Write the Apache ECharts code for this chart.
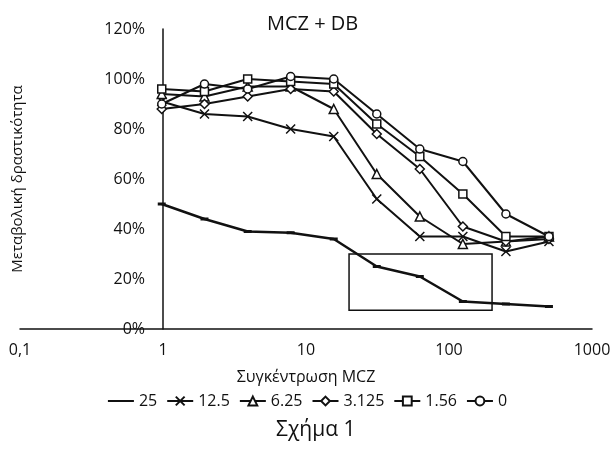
<!DOCTYPE html>
<html lang="el">
<head>
    <meta charset="UTF-8">
    <title>MCZ + DB</title>
    <script src="https://cdn.jsdelivr.net/npm/echarts@6/dist/echarts.min.js"></script>
    <style>
        body { margin: 0; background: #fff; }
        #chart { width: 614px; height: 449px; }
    </style>
</head>
<body>
    <div id="chart"></div>
<script>
    // συγκεντρώσεις MCZ (άξονας x, λογαριθμικός)
    var conc = [0.98, 1.95, 3.91, 7.81, 15.63, 31.25, 62.5, 125, 250, 500];
    var seriesNames = ['25', '12.5', '6.25', '3.125', '1.56', '0'];
    // μεταβολική δραστικότητα (%)
    var s25   = [50, 44, 39, 38.5, 36, 25, 21, 11, 10, 9];
    var s12_5 = [91, 86, 85, 80, 77, 52, 37, 37, 31, 35];
    var s6_25 = [94, 93, 97, 97, 88, 62, 45, 34, 35, 37];
    var s3_125 = [88, 90, 93, 96, 95, 78, 64, 41, 35, 36];
    var s1_56 = [96, 95, 100, 99, 98, 82, 69, 54, 37, 37];
    var s0    = [90, 98, 96, 101, 100, 86, 72, 67, 46, 37];
    var yTicks = [0, 20, 40, 60, 80, 100, 120];
    // πλαίσιο επισήμανσης [x1, y1, x2, y2]
    var boxArea = [20, 30, 200, 7.5];

    var font = 'Open Sans';
    var ink = '#111';

    function pairs(ys) {
        return conc.map(function (x, i) { return [x, ys[i]]; });
    }

    function makeSeries(name, ys, symbol, size) {
        return {
            name: name,
            type: 'line',
            data: pairs(ys),
            symbol: symbol,
            symbolSize: size,
            showAllSymbol: true,
            lineStyle: { color: ink, width: 2 },
            itemStyle: { color: '#fff', borderColor: ink, borderWidth: 1.5 },
            emphasis: { disabled: true },
            z: 3
        };
    }

    var series = [
        {
            name: '25',
            type: 'line',
            data: pairs(s25),
            symbol: 'rect',
            symbolSize: [8, 3],
            lineStyle: { color: ink, width: 2.5 },
            itemStyle: { color: ink, borderWidth: 0 },
            emphasis: { disabled: true },
            markArea: {
                silent: true,
                itemStyle: { color: 'rgba(0,0,0,0)', borderColor: ink, borderWidth: 1.5 },
                data: [[{ coord: [boxArea[0], boxArea[1]] }, { coord: [boxArea[2], boxArea[3]] }]]
            }
        },
        makeSeries('12.5', s12_5, 'path://M0,0L10,10M10,0L0,10', 9),
        makeSeries('6.25', s6_25, 'triangle', 9),
        makeSeries('3.125', s3_125, 'diamond', 9),
        makeSeries('1.56', s1_56, 'rect', 8),
        makeSeries('0', s0, 'circle', 8)
    ];

    var legendData = seriesNames.map(function (n) {
        return n === '25' ? { name: n, itemStyle: { opacity: 0 } } : { name: n };
    });

    var chart = echarts.init(document.getElementById('chart'));
    chart.setOption({
        animation: false,
        backgroundColor: '#fff',
        textStyle: { fontFamily: font, color: ink },
        grid: { left: 20, right: 22, top: 29, bottom: 120 },
        graphic: [
            {
                type: 'text', left: 267, top: 14,
                style: { text: 'MCZ + DB', font: '20px "' + font + '"', fill: ink }
            },
            {
                type: 'text', left: 276, top: 420,
                style: { text: 'Σχήμα 1', font: '21px "' + font + '"', fill: ink }
            }
        ],
        legend: {
            data: legendData,
            top: 388,
            left: 'center',
            itemWidth: 26,
            itemHeight: 11,
            itemGap: 9,
            textStyle: { fontSize: 16, color: ink, fontFamily: font },
            selectedMode: false
        },
        xAxis: {
            type: 'log',
            logBase: 10,
            min: 0.1,
            max: 1000,
            name: 'Συγκέντρωση MCZ',
            nameLocation: 'middle',
            nameGap: 40,
            nameTextStyle: { fontSize: 16, color: ink },
            axisLine: { lineStyle: { color: ink, width: 1.5 } },
            axisTick: { show: false },
            splitLine: { show: false },
            minorTick: { show: false },
            axisLabel: {
                margin: 13,
                fontSize: 16,
                color: ink,
                formatter: function (v) { return String(v).replace('.', ','); }
            }
        },
        yAxis: {
            type: 'value',
            min: yTicks[0],
            max: yTicks[yTicks.length - 1],
            interval: 20,
            offset: -143,
            name: 'Μεταβολική δραστικότητα',
            nameLocation: 'middle',
            nameGap: 138,
            nameTextStyle: { fontSize: 15, color: ink },
            axisLine: { show: true, lineStyle: { color: ink, width: 1.5 } },
            axisTick: { show: false },
            splitLine: { show: false },
            axisLabel: { margin: 18, fontSize: 16, color: ink, formatter: '{value}%' }
        },
        series: series
    });
</script>
</body>
</html>
